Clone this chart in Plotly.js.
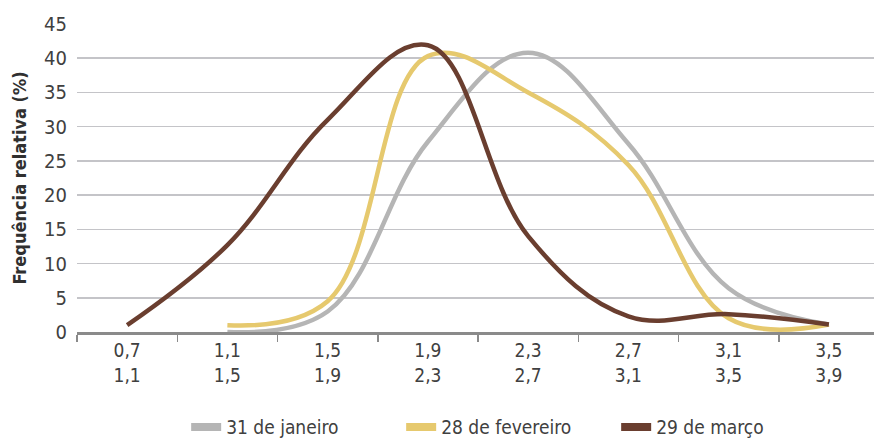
<!DOCTYPE html>
<html>
<head>
<meta charset="utf-8">
<script src="https://cdn.plot.ly/plotly-3.0.1.min.js"></script>
<style>html,body{margin:0;padding:0;background:#fff;}#chart{width:874px;height:438px;}</style>
</head>
<body>
<div id="chart"></div>
<script>
const categories = ["0,7<br>1,1", "1,1<br>1,5", "1,5<br>1,9", "1,9<br>2,3", "2,3<br>2,7", "2,7<br>3,1", "3,1<br>3,5", "3,5<br>3,9"];
const seriesNames = ["31 de janeiro", "28 de fevereiro", "29 de março"];
const janeiro = [null, 0, 3, 27.8, 40.8, 27.5, 6.4, 1.1];
const fevereiro = [null, 1, 4.5, 40.3, 35, 24.4, 2.0, 1.1];
const marco = [1, 12.7, 31, 41.9, 14, 2.3, 2.6, 1.1];
const colors = ["#b5b5b5", "#e6c96e", "#6a3e2f"];

const FONT = "'DejaVu Sans Condensed', 'Liberation Sans Narrow', sans-serif";
const series = [janeiro, fevereiro, marco];
const traces = [];
series.forEach((vals, i) => {
  traces.push({
    type: "scatter", mode: "lines", x: categories, y: vals,
    line: {color: colors[i], width: 4.5, shape: "spline", smoothing: 1.1},
    connectgaps: false, showlegend: false, hoverinfo: "skip"
  });
});
series.forEach((vals, i) => {
  traces.push({
    type: "scatter", mode: "lines", x: [null], y: [null], name: seriesNames[i],
    line: {color: colors[i], width: 8}, showlegend: true
  });
});

const layout = {
  width: 874, height: 438,
  margin: {l: 77, r: 0, t: 24, b: 106},
  paper_bgcolor: "#fff", plot_bgcolor: "#fff",
  font: {family: FONT, size: 18, color: "#404040"},
  xaxis: {
    type: "category", range: [-0.5, 7.45],
    showgrid: false, showline: true, linecolor: "#8a8a8a", linewidth: 2.5,
    ticks: "outside", tickson: "boundaries", ticklen: 7, tickcolor: "#8a8a8a", tickwidth: 1.5,
    tickfont: {family: FONT, size: 19, color: "#404040"},
    fixedrange: true
  },
  yaxis: {
    range: [0, 45], dtick: 5, tick0: 0,
    showgrid: true, gridcolor: "#c4c4c8", gridwidth: 1.5,
    zeroline: false, showline: false, ticks: "",
    ticklabelstandoff: 9,
    tickfont: {family: FONT, size: 20, color: "#404040"},
    title: {text: "<b>Frequência relativa (%)</b>", font: {family: FONT, size: 18, color: "#303030"}, standoff: 12}
  },
  legend: {
    orientation: "h", xref: "container", x: 0.213, xanchor: "left",
    yref: "container", y: 0.025, yanchor: "middle",
    font: {family: FONT, size: 19, color: "#404040"},
    entrywidth: 170, entrywidthmode: "pixels", traceorder: "normal"
  },
  showlegend: true
};
Plotly.newPlot("chart", traces, layout, {displayModeBar: false, staticPlot: true});
</script>
</body>
</html>
